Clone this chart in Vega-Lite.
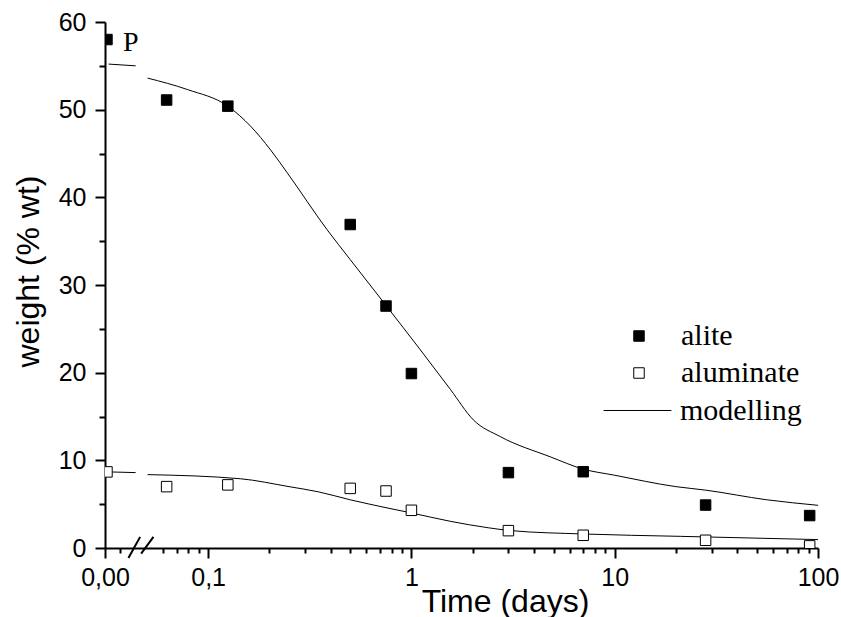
{
  "$schema": "https://vega.github.io/schema/vega-lite/v6.json",
  "width": 713,
  "height": 526,
  "autosize": "none",
  "padding": {"left": 105, "top": 22, "right": 23, "bottom": 69},
  "background": "white",
  "config": {
    "view": {"stroke": null},
    "axis": {
      "grid": false,
      "domainColor": "black",
      "tickColor": "black",
      "labelColor": "black",
      "titleColor": "black",
      "labelFont": "Liberation Sans",
      "titleFont": "Liberation Sans",
      "labelFlush": false,
      "labelOverlap": false
    },
    "legend": {"labelColor": "black"}
  },
  "datasets": {
    "obs": [
      {"phase": "alite", "t": 0, "w": 58.0},
      {"phase": "alite", "t": 0.0625, "w": 51.1},
      {"phase": "alite", "t": 0.125, "w": 50.4},
      {"phase": "alite", "t": 0.5, "w": 36.9},
      {"phase": "alite", "t": 0.75, "w": 27.6},
      {"phase": "alite", "t": 1, "w": 19.9},
      {"phase": "alite", "t": 3, "w": 8.6},
      {"phase": "alite", "t": 7, "w": 8.7},
      {"phase": "alite", "t": 28, "w": 4.9},
      {"phase": "alite", "t": 91, "w": 3.7},
      {"phase": "aluminate", "t": 0, "w": 8.68},
      {"phase": "aluminate", "t": 0.0625, "w": 7.0},
      {"phase": "aluminate", "t": 0.125, "w": 7.2},
      {"phase": "aluminate", "t": 0.5, "w": 6.8},
      {"phase": "aluminate", "t": 0.75, "w": 6.5},
      {"phase": "aluminate", "t": 1, "w": 4.3},
      {"phase": "aluminate", "t": 3, "w": 1.98},
      {"phase": "aluminate", "t": 7, "w": 1.45},
      {"phase": "aluminate", "t": 28, "w": 0.88},
      {"phase": "aluminate", "t": 91, "w": 0.24}
    ],
    "model": [
      {"curve": "alite-a", "t": 0.0324, "w": 55.2},
      {"curve": "alite-a", "t": 0.044, "w": 55.0},
      {"curve": "alite-b", "t": 0.0504, "w": 53.6},
      {"curve": "alite-b", "t": 0.079, "w": 52.3},
      {"curve": "alite-b", "t": 0.125, "w": 50.4},
      {"curve": "alite-b", "t": 0.162, "w": 48.1},
      {"curve": "alite-b", "t": 0.203, "w": 45.4},
      {"curve": "alite-b", "t": 0.245, "w": 42.8},
      {"curve": "alite-b", "t": 0.385, "w": 36.3},
      {"curve": "alite-b", "t": 0.5, "w": 32.9},
      {"curve": "alite-b", "t": 0.754, "w": 27.6},
      {"curve": "alite-b", "t": 1.107, "w": 22.6},
      {"curve": "alite-b", "t": 1.554, "w": 18.1},
      {"curve": "alite-b", "t": 2.02, "w": 14.6},
      {"curve": "alite-b", "t": 2.74, "w": 12.7},
      {"curve": "alite-b", "t": 4.82, "w": 10.4},
      {"curve": "alite-b", "t": 7, "w": 9.0},
      {"curve": "alite-b", "t": 10, "w": 8.3},
      {"curve": "alite-b", "t": 20, "w": 7.0},
      {"curve": "alite-b", "t": 28, "w": 6.6},
      {"curve": "alite-b", "t": 56, "w": 5.5},
      {"curve": "alite-b", "t": 100, "w": 4.87},
      {"curve": "alu-a", "t": 0.0324, "w": 8.68},
      {"curve": "alu-a", "t": 0.044, "w": 8.6},
      {"curve": "alu-b", "t": 0.0504, "w": 8.37},
      {"curve": "alu-b", "t": 0.144, "w": 7.9},
      {"curve": "alu-b", "t": 0.25, "w": 7.0},
      {"curve": "alu-b", "t": 0.35, "w": 6.4},
      {"curve": "alu-b", "t": 0.5, "w": 5.5},
      {"curve": "alu-b", "t": 0.75, "w": 4.6},
      {"curve": "alu-b", "t": 1, "w": 4.0},
      {"curve": "alu-b", "t": 1.55, "w": 3.05},
      {"curve": "alu-b", "t": 2.4, "w": 2.3},
      {"curve": "alu-b", "t": 3.1, "w": 1.98},
      {"curve": "alu-b", "t": 7, "w": 1.6},
      {"curve": "alu-b", "t": 21, "w": 1.33},
      {"curve": "alu-b", "t": 100, "w": 0.96}
    ],
    "brk": [
      {"t": 0.04055, "w": -1.13, "t2": 0.0463, "w2": 1.27},
      {"t": 0.04683, "w": -0.64, "t2": 0.05383, "w2": 1.27}
    ],
    "note": [
      {"t": 0.0381, "w": 56.7, "label": "P"}
    ]
  },
  "layer": [
    {
      "data": {"name": "model"},
      "mark": {"type": "line", "interpolate": "monotone", "strokeWidth": 1},
      "encoding": {
        "x": {
          "field": "t", "type": "quantitative",
          "scale": {"type": "log", "domain": [0.0311, 100], "nice": false},
          "axis": {
            "orient": "bottom",
            "values": [0.0311, 0.1, 1, 10, 100],
            "labelExpr": "datum.value < 0.05 ? '0,00' : datum.value < 0.5 ? '0,1' : datum.value < 5 ? '1' : datum.value < 50 ? '10' : '100'",
            "tickSize": 10,
            "tickWidth": 2,
            "domainWidth": 2,
            "labelFontSize": 25,
            "labelPadding": 7,
            "title": "Time (days)",
            "titleFontSize": 32,
            "titleFontWeight": "normal",
            "titleX": 400,
            "titleY": 63,
            "titleAlign": "center",
            "titleBaseline": "alphabetic"
          }
        },
        "y": {
          "field": "w", "type": "quantitative",
          "scale": {"domain": [0, 60], "nice": false},
          "axis": {
            "orient": "left",
            "values": [0, 10, 20, 30, 40, 50, 60],
            "tickSize": 10,
            "tickWidth": 2,
            "domainWidth": 2,
            "labelFontSize": 25,
            "labelPadding": 9,
            "title": "weight (% wt)",
            "titleFontSize": 32,
            "titleFontWeight": "normal",
            "titleAngle": 270,
            "titleX": -67,
            "titleY": 249,
            "titleAlign": "center",
            "titleBaseline": "alphabetic"
          }
        },
        "detail": {"field": "curve"},
        "stroke": {
          "datum": "modelling",
          "scale": {"range": ["black"]},
          "legend": {
            "orient": "none",
            "legendX": 498,
            "legendY": 354,
            "title": null,
            "symbolType": "stroke",
            "symbolSize": 4600,
            "symbolStrokeWidth": 1,
            "symbolStrokeColor": "black",
            "labelFont": "Liberation Serif",
            "labelFontSize": 30,
            "labelOffset": 8,
            "padding": 0
          }
        }
      }
    },
    {
      "data": {"name": "brk"},
      "mark": {"type": "rule", "strokeWidth": 2, "color": "black"},
      "encoding": {
        "x": {
          "field": "t", "type": "quantitative",
          "scale": {"type": "log", "domain": [0.0311, 100], "nice": false},
          "axis": {
            "orient": "bottom",
            "values": [0.037, 0.06, 0.07, 0.08, 0.09, 0.2, 0.3, 0.4, 0.5, 0.6, 0.7, 0.8, 0.9, 2, 3, 4, 5, 6, 7, 8, 9, 20, 30, 40, 50, 60, 70, 80, 90],
            "tickSize": 5,
            "tickWidth": 2,
            "labels": false,
            "domain": false,
            "title": null
          }
        },
        "x2": {"field": "t2"},
        "y": {
          "field": "w", "type": "quantitative",
          "scale": {"domain": [0, 60], "nice": false},
          "axis": {
            "orient": "left",
            "values": [5, 15, 25, 35, 45, 55],
            "tickSize": 6,
            "tickWidth": 2,
            "labels": false,
            "domain": false,
            "title": null
          }
        },
        "y2": {"field": "w2"}
      }
    },
    {
      "data": {"name": "obs"},
      "transform": [{"calculate": "datum.t > 0 ? datum.t : 0.0318", "as": "tx"}],
      "mark": {"type": "point", "shape": "square", "filled": false, "size": 110, "stroke": "black", "strokeWidth": 1, "opacity": 1, "clip": true},
      "encoding": {
        "x": {"field": "tx", "type": "quantitative", "scale": {"type": "log", "domain": [0.0311, 100], "nice": false}, "axis": null},
        "y": {"field": "w", "type": "quantitative", "scale": {"domain": [0, 60], "nice": false}, "axis": null},
        "fill": {
          "field": "phase", "type": "nominal",
          "scale": {"domain": ["alite", "aluminate"], "range": ["black", "white"]},
          "legend": {
            "orient": "none",
            "legendX": 519,
            "legendY": 299,
            "title": null,
            "symbolType": "square",
            "symbolSize": 110,
            "symbolStrokeColor": "black",
            "symbolStrokeWidth": 1,
            "symbolOpacity": 1,
            "labelFont": "Liberation Serif",
            "labelFontSize": 30,
            "labelOffset": 27,
            "rowPadding": 7,
            "padding": 0
          }
        }
      }
    },
    {
      "data": {"name": "note"},
      "mark": {"type": "text", "align": "left", "baseline": "alphabetic", "font": "Liberation Serif", "fontSize": 28, "color": "black"},
      "encoding": {
        "x": {"field": "t", "type": "quantitative", "scale": {"type": "log", "domain": [0.0311, 100], "nice": false}, "axis": null},
        "y": {"field": "w", "type": "quantitative", "scale": {"domain": [0, 60], "nice": false}, "axis": null},
        "text": {"field": "label"}
      }
    }
  ],
  "resolve": {"axis": {"x": "independent", "y": "independent"}}
}
